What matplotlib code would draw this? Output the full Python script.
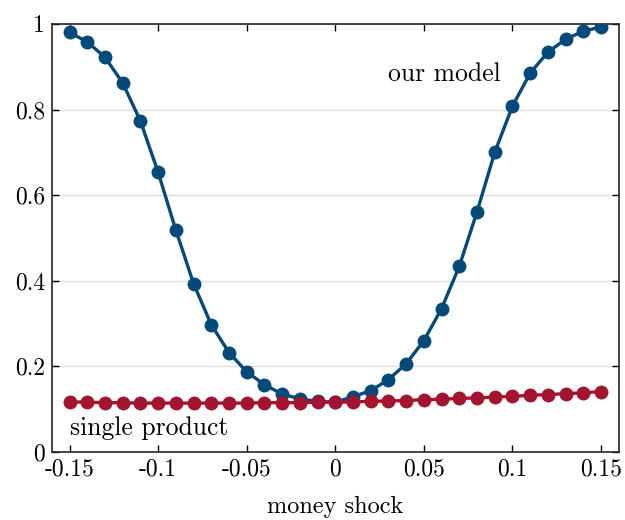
import matplotlib

matplotlib.use("Agg")
import matplotlib.pyplot as plt

plt.rcParams["font.family"] = "serif"
plt.rcParams["font.serif"] = ["cmr10"]
plt.rcParams["mathtext.fontset"] = "cm"
plt.rcParams["axes.formatter.use_mathtext"] = True

# money shock grid, -0.15 .. 0.15
shock = [-0.15, -0.14, -0.13, -0.12, -0.11, -0.10, -0.09, -0.08, -0.07, -0.06, -0.05,
         -0.04, -0.03, -0.02, -0.01, 0.0, 0.01, 0.02, 0.03, 0.04, 0.05, 0.06, 0.07,
         0.08, 0.09, 0.10, 0.11, 0.12, 0.13, 0.14, 0.15]
our_model = [0.980, 0.958, 0.922, 0.862, 0.773, 0.653, 0.518, 0.393, 0.297, 0.232, 0.187,
             0.157, 0.135, 0.124, 0.118, 0.116, 0.129, 0.143, 0.169, 0.206, 0.260, 0.335, 0.434,
             0.561, 0.700, 0.808, 0.885, 0.934, 0.964, 0.983, 0.993]
single_product = [0.117, 0.116, 0.115, 0.115, 0.114, 0.114, 0.114, 0.114, 0.114, 0.114, 0.114,
                  0.115, 0.115, 0.115, 0.116, 0.116, 0.117, 0.118, 0.119, 0.120, 0.122, 0.123, 0.125,
                  0.126, 0.128, 0.130, 0.132, 0.134, 0.136, 0.138, 0.141]

xticks = [-0.15, -0.1, -0.05, 0, 0.05, 0.1, 0.15]
xticklabels = ["-0.15", "-0.1", "-0.05", "0", "0.05", "0.1", "0.15"]
yticks = [0, 0.2, 0.4, 0.6, 0.8, 1]
yticklabels = ["0", "0.2", "0.4", "0.6", "0.8", "1"]

BLUE = "#034a7a"
RED = "#a3142f"

fig = plt.figure(figsize=(6.25, 5.2), dpi=100)
ax = fig.add_axes([0.083, 0.131, 0.907, 0.823])

ax.plot(shock, our_model, "-o", color=BLUE, lw=2.4, ms=9, zorder=3)
ax.plot(shock, single_product, "-o", color=RED, lw=2.4, ms=9, zorder=4)

ax.text(0.0295, 0.883, "our model", fontsize=18.5, va="center", ha="left")
ax.text(-0.1497, 0.056, "single product", fontsize=18.5, va="center", ha="left")

ax.set_xlim(-0.16, 0.16)
ax.set_ylim(0, 1)
ax.set_xticks(xticks)
ax.set_xticklabels(xticklabels)
ax.set_yticks(yticks)
ax.set_yticklabels(yticklabels)
ax.tick_params(direction="in", length=5, width=1, labelsize=17, top=True, right=True, pad=5)
ax.grid(True, axis="y", color="#dcdcdc", lw=1)
ax.set_axisbelow(True)
for s in ax.spines.values():
    s.set_linewidth(1.2)
    s.set_color("#262626")
ax.set_xlabel("money shock", fontsize=17.5, labelpad=11)

fig.savefig("out.png", dpi=100)
